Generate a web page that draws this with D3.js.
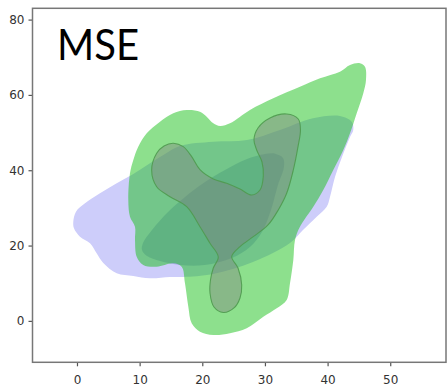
<!DOCTYPE html>
<html>
<head>
<meta charset="utf-8">
<script src="https://cdn.jsdelivr.net/npm/d3@7"></script>
<style>
  html, body { margin: 0; padding: 0; background: #fff; }
  svg { display: block; }
</style>
</head>
<body>
<script>
// Axis ticks
const xTicks = [0, 10, 20, 30, 40, 50];
const yTicks = [0, 20, 40, 60, 80];
const title = "MSE";

// Density contours, [x, y] in data units
const blueOuter = [
  [-0.59, 26.34], [-0.16, 29.0], [1.28, 31.23], [3.67, 33.88], [6.34, 36.54],
  [8.99, 39.0], [13.25, 43.5], [16.44, 46.44], [21.71, 47.58], [27.13, 48.03],
  [32.4, 50.69], [37.67, 53.8], [41.98, 54.41], [43.85, 52.89], [44.1, 50.69],
  [43.58, 48.83], [42.3, 43.52], [41.18, 38.21], [40.38, 32.9], [39.86, 30.32],
  [38.26, 27.67], [36.07, 24.14], [34.0, 20.69], [28.09, 15.64], [21.71, 12.45],
  [16.92, 11.65], [14.84, 11.65], [11.65, 11.31], [8.99, 11.92], [6.34, 12.64],
  [4.2, 15.37], [3.14, 17.95], [2.08, 20.61], [0.48, 22.36], [-0.48, 24.59]
];

const blueInner = [
  [32.88, 43.28], [31.76, 44.34], [30.01, 44.34], [27.13, 43.0], [23.62, 40.09],
  [20.43, 36.9], [17.24, 32.92], [14.53, 28.93], [11.97, 24.15], [10.53, 20.69],
  [10.37, 18.83], [11.17, 17.23], [13.25, 15.9], [16.44, 14.84], [20.43, 14.84],
  [24.74, 16.7], [27.61, 19.62], [29.53, 23.6], [30.97, 29.45], [32.08, 36.08],
  [33.04, 40.86]
];

const greenOuter = [
  [8.19, 32.1], [8.46, 39.19], [8.99, 42.73], [9.78, 46.26], [11.13, 49.81],
  [13.25, 52.89], [15.37, 55.12], [17.51, 56.0], [19.63, 55.55], [20.7, 54.22],
  [21.76, 52.47], [22.83, 51.75], [24.42, 52.47], [27.61, 56.0], [31.33, 59.11],
  [35.59, 62.19], [38.79, 64.42], [41.98, 66.17], [43.58, 67.95], [45.17, 68.4],
  [45.97, 67.5], [46.13, 63.97], [45.7, 60.44], [44.65, 55.12], [43.58, 49.81],
  [42.51, 45.38], [40.91, 40.07], [39.31, 34.76], [37.72, 30.32], [35.59, 25.01],
  [34.8, 21.48], [34.53, 16.17], [34.0, 9.98], [33.47, 5.55], [31.88, 3.35],
  [29.74, 1.12], [27.09, -1.96], [24.42, -3.29], [21.76, -3.74], [19.63, -2.87],
  [18.31, -0.64], [17.77, 3.77], [17.24, 9.98], [16.71, 14.39], [15.37, 15.29],
  [12.72, 14.39], [10.58, 14.84], [9.53, 17.05], [9.26, 21.48], [9.26, 25.01],
  [8.46, 27.67]
];

const greenInner = [
  [15.37, 47.16], [16.97, 46.26], [18.31, 43.6], [19.63, 40.15], [21.76, 37.68],
  [23.89, 36.54], [26.02, 35.02], [27.89, 33.43], [29.21, 34.76], [29.74, 38.48],
  [29.53, 42.19], [28.68, 45.38], [28.25, 48.03], [28.89, 51.22], [30.81, 53.88],
  [33.47, 54.94], [35.32, 53.61], [35.67, 50.69], [35.27, 46.18], [34.53, 40.07],
  [33.47, 33.88], [32.13, 29.45], [30.49, 25.46], [28.14, 22.36], [26.02, 19.7],
  [24.69, 17.05], [25.7, 14.05], [26.29, 9.53], [26.02, 6.08], [25.06, 3.43],
  [23.35, 2.23], [21.87, 3.69], [21.23, 7.41], [21.31, 10.86], [21.76, 14.05],
  [22.55, 16.97], [21.23, 20.61], [19.63, 25.01], [17.51, 30.32], [14.84, 32.98],
  [12.72, 35.63], [11.92, 40.07], [12.72, 44.5], [13.89, 46.44]
];

const W = 447, H = 388;
const plot = { left: 32.5, right: 446, top: 8.3, bottom: 362.3 };

const x = d3.scaleLinear().domain([-7.1, 58.9]).range([plot.left, plot.right]);
const y = d3.scaleLinear().domain([-11, 83]).range([plot.bottom, plot.top]);

const svg = d3.select("body").append("svg")
  .attr("width", W).attr("height", H);

svg.append("defs").append("clipPath").attr("id", "plot-clip")
  .append("rect")
  .attr("x", plot.left).attr("y", plot.top)
  .attr("width", plot.right - plot.left).attr("height", plot.bottom - plot.top);

const shape = d3.line()
  .x(d => x(d[0]))
  .y(d => y(d[1]))
  .curve(d3.curveCatmullRomClosed.alpha(0.5));

const layers = svg.append("g").attr("clip-path", "url(#plot-clip)");

layers.append("path").datum(blueOuter)
  .attr("d", shape).attr("fill", "#cdcdfa");

layers.append("path").datum(blueInner)
  .attr("d", shape).attr("fill", "#a8a8ea");

layers.append("path").datum(greenOuter)
  .attr("d", shape).attr("fill", "rgb(22,192,22)").attr("fill-opacity", 0.49);

layers.append("path").datum(greenInner)
  .attr("d", shape)
  .attr("fill", "rgb(130,124,130)").attr("fill-opacity", 0.4)
  .attr("stroke", "#4f9a4f").attr("stroke-width", 1.1).attr("stroke-opacity", 0.9);

// Axes
const xAxis = d3.axisBottom(x).tickValues(xTicks).tickSize(4).tickPadding(9).tickFormat(d3.format("d"));
const yAxis = d3.axisLeft(y).tickValues(yTicks).tickSize(4).tickPadding(4).tickFormat(d3.format("d"));

const gx = svg.append("g").attr("transform", `translate(0,${plot.bottom})`).call(xAxis);
const gy = svg.append("g").attr("transform", `translate(${plot.left},0)`).call(yAxis);

[gx, gy].forEach(g => {
  g.select(".domain").remove();
  g.selectAll(".tick line").attr("stroke", "#555").attr("stroke-width", 1.2);
  g.selectAll(".tick text")
    .attr("fill", "#333")
    .style("font-family", "'DejaVu Sans', sans-serif")
    .style("font-size", "12px");
});

// Frame
svg.append("rect")
  .attr("x", plot.left).attr("y", plot.top)
  .attr("width", plot.right - plot.left).attr("height", plot.bottom - plot.top)
  .attr("fill", "none").attr("stroke", "#777").attr("stroke-width", 1.5);

// Title inside the plot
svg.append("text")
  .attr("x", 57).attr("y", 60)
  .attr("fill", "#000")
  .attr("textLength", 82)
  .attr("lengthAdjust", "spacingAndGlyphs")
  .style("font-family", "Lato, 'Open Sans', sans-serif")
  .style("font-size", "43px")
  .text(title);
</script>
</body>
</html>
